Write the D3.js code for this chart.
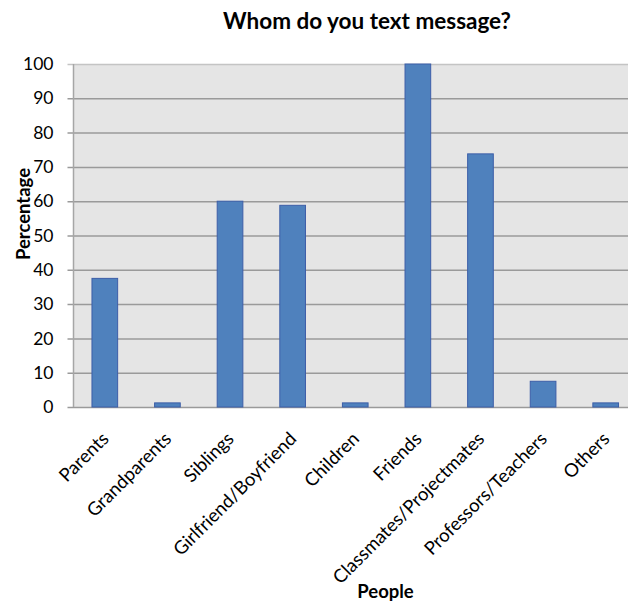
<!DOCTYPE html>
<html>
<head>
<meta charset="utf-8">
<script src="https://cdn.jsdelivr.net/npm/d3@7"></script>
<style>
  body { margin: 0; background: #fff; }
  text { font-family: Lato, "Open Sans", sans-serif; fill: #000; }
</style>
</head>
<body>
<svg id="chart"></svg>
<script>
// chart data
const categories = ['Parents', 'Grandparents', 'Siblings', 'Girlfriend/Boyfriend', 'Children',
                    'Friends', 'Classmates/Projectmates', 'Professors/Teachers', 'Others'];
const percentages = [37.5, 1.2, 60, 58.8, 1.2, 100, 73.8, 7.5, 1.2];
const yTicks = [0, 10, 20, 30, 40, 50, 60, 70, 80, 90, 100];

function buildChart() {
    const width = 636;
    const height = 603;
    const svg = d3.select('#chart').attr('width', width).attr('height', height);

    // plot area (the band range runs a bit past the grey box, like the original)
    const left = 73.5, right = 628, top = 64, bottom = 407;
    const bandRight = 637;

    const x = d3.scaleBand().domain(categories).range([left, bandRight]).paddingInner(0.59).paddingOuter(0.295);
    const y = d3.scaleLinear().domain([0, 100]).range([bottom, top]);

    // grey background
    svg.append('rect')
        .attr('x', left).attr('y', top)
        .attr('width', right - left).attr('height', bottom - top)
        .attr('fill', '#e5e5e5');

    // gridlines + ticks
    svg.append('g')
        .attr('transform', `translate(${left},0)`)
        .call(d3.axisLeft(y).tickValues(yTicks).tickSize(-(right - left)).tickPadding(20))
        .call(g => g.select('.domain').remove())
        .call(g => g.selectAll('.tick line')
            .attr('stroke', d => d === 100 ? '#c4c4c4' : '#9a9a9a')
            .attr('stroke-width', 1.5)
            .attr('x1', -6))
        .call(g => g.selectAll('.tick text').attr('font-size', 17.5).style('font-family', 'Lato, sans-serif'));

    // left axis line
    svg.append('line')
        .attr('x1', left).attr('x2', left)
        .attr('y1', top).attr('y2', bottom)
        .attr('stroke', '#a6a6a6').attr('stroke-width', 1.5);

    // bars
    svg.append('g')
        .selectAll('rect')
        .data(percentages)
        .enter()
        .append('rect')
        .attr('x', (d, i) => x(categories[i]))
        .attr('y', d => y(d))
        .attr('width', x.bandwidth())
        .attr('height', d => y(0) - y(d))
        .attr('fill', '#4f81bd')
        .attr('stroke', '#3d5ea8')
        .attr('stroke-width', 1);

    // category labels, rotated
    svg.append('g')
        .selectAll('text')
        .data(categories)
        .enter()
        .append('text')
        .attr('transform', d => `translate(${x(d) + x.bandwidth() / 2 + 5},${bottom + 33}) rotate(-45)`)
        .attr('text-anchor', 'end')
        .attr('font-size', 18.5)
        .text(d => d);

    // title
    svg.append('text')
        .attr('x', 367).attr('y', 29)
        .attr('text-anchor', 'middle')
        .attr('font-size', 22.5)
        .attr('font-weight', 'bold')
        .text('Whom do you text message?');

    // axis titles
    svg.append('text')
        .attr('transform', 'translate(30,214) rotate(-90)')
        .attr('text-anchor', 'middle')
        .attr('font-size', 18.5)
        .attr('font-weight', 'bold')
        .text('Percentage');

    svg.append('text')
        .attr('x', 385.5).attr('y', 598)
        .attr('text-anchor', 'middle')
        .attr('font-size', 18.5)
        .attr('font-weight', 'bold')
        .text('People');
}

buildChart();
</script>
</body>
</html>
